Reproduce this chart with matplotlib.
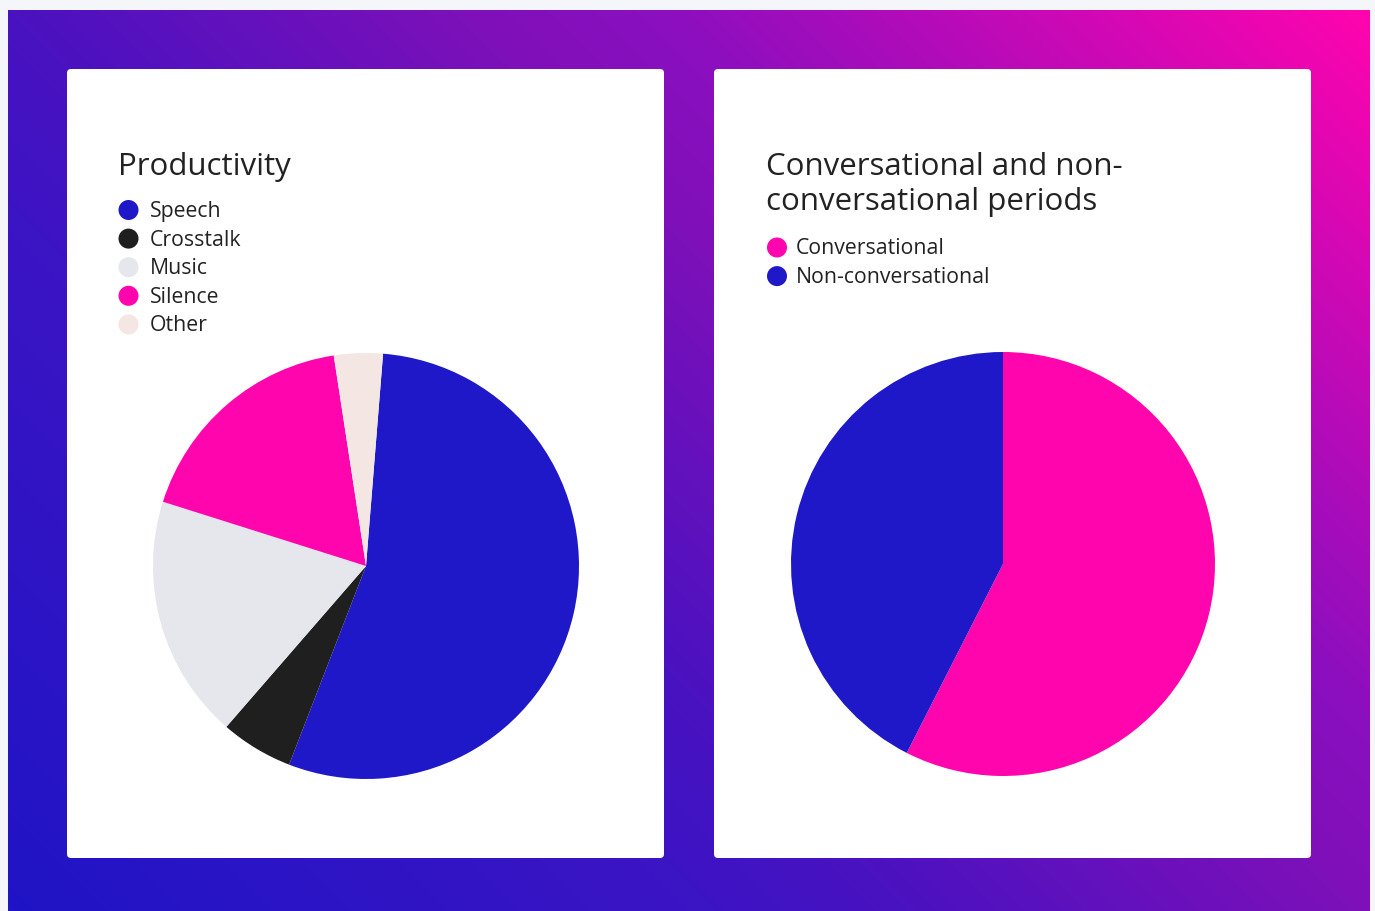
import numpy as np
import matplotlib.pyplot as plt
from matplotlib.patches import FancyBboxPatch, Circle
from matplotlib.colors import LinearSegmentedColormap

# data (percent of time)
prod_labels = ["Speech", "Crosstalk", "Music", "Silence", "Other"]
prod_values = [54.6, 5.5, 18.5, 17.7, 3.7]
prod_colors = ["#1f18c8", "#1f1f1f", "#e6e7ec", "#ff05ad", "#f3e6e3"]

conv_labels = ["Conversational", "Non-conversational"]
conv_values = [57.5, 42.5]
conv_colors = ["#ff05ad", "#1f18c8"]

title1 = "Productivity"
title2 = "Conversational and non-\nconversational periods"

W, H = 1375, 911
plt.rcParams['font.family'] = ['Open Sans', 'DejaVu Sans']
fig = plt.figure(figsize=(W/100, H/100), dpi=100)
fig.patch.set_facecolor("#f5f6fa")

# full-figure axes in pixel units for the background, cards and legends
bg = fig.add_axes([0, 0, 1, 1])
bg.set_xlim(0, W); bg.set_ylim(H, 0); bg.axis("off")

# diagonal gradient, blue bottom-left -> pink top-right
x0, x1, y0, y1 = 8, 1370, 10, 911
xx, yy = np.meshgrid(np.arange(x0, x1), np.arange(y0, y1))
cx, cy = (x0+x1)/2, (y0+y1)/2
L = ((x1-x0) + (y1-y0))*0.7071
t = 0.5 + ((xx-cx) - (yy-cy))*0.7071/L
grad = LinearSegmentedColormap.from_list("grad", [
    (0.0, "#1f14c6"), (0.31, "#3c14c4"), (0.4, "#4a12c0"),
    (0.6, "#7e10b9"), (0.69, "#8c0fbf"), (1.0, "#ff04ae")])
bg.imshow(t, cmap=grad, extent=(x0, x1, y1, y0), aspect="auto", interpolation="bilinear")
bg.set_xlim(0, W); bg.set_ylim(H, 0)

# white cards
for left in (67, 714):
    bg.add_patch(FancyBboxPatch((left, 69), 597, 789, boxstyle="round,pad=0,rounding_size=4",
                                fc="white", ec="none"))

txt = "#222222"
bg.text(118, 175, title1, fontsize=22.5, color=txt, va="baseline")
for k, line in enumerate(title2.split("\n")):
    bg.text(766, 175 + k*35, line, fontsize=22.5, color=txt, va="baseline")

# legends
for i, (lab, col) in enumerate(zip(prod_labels, prod_colors)):
    y = 210 + i*28.6
    bg.add_patch(Circle((128.5, y), 10, fc=col, ec="none"))
    bg.text(150, y+7, lab, fontsize=15.3, color=txt, va="baseline")
for i, (lab, col) in enumerate(zip(conv_labels, conv_colors)):
    y = 247.5 + i*28.6
    bg.add_patch(Circle((777, y), 10, fc=col, ec="none"))
    bg.text(796, y+7, lab, fontsize=15.3, color=txt, va="baseline")


def pie_axes(cxp, cyp, r):
    return fig.add_axes([(cxp-r)/W, 1-(cyp+r)/H, 2*r/W, 2*r/H])

ax1 = pie_axes(366, 566, 213)
ax1.pie(prod_values, colors=prod_colors, startangle=85.4, counterclock=False,
        wedgeprops=dict(linewidth=0))
ax1.set_xlim(-1, 1); ax1.set_ylim(-1, 1); ax1.axis("off")

ax2 = pie_axes(1003, 564, 212)
ax2.pie(conv_values, colors=conv_colors, startangle=90, counterclock=False,
        wedgeprops=dict(linewidth=0))
ax2.set_xlim(-1, 1); ax2.set_ylim(-1, 1); ax2.axis("off")

fig.savefig("out.png", dpi=100, facecolor=fig.get_facecolor())
